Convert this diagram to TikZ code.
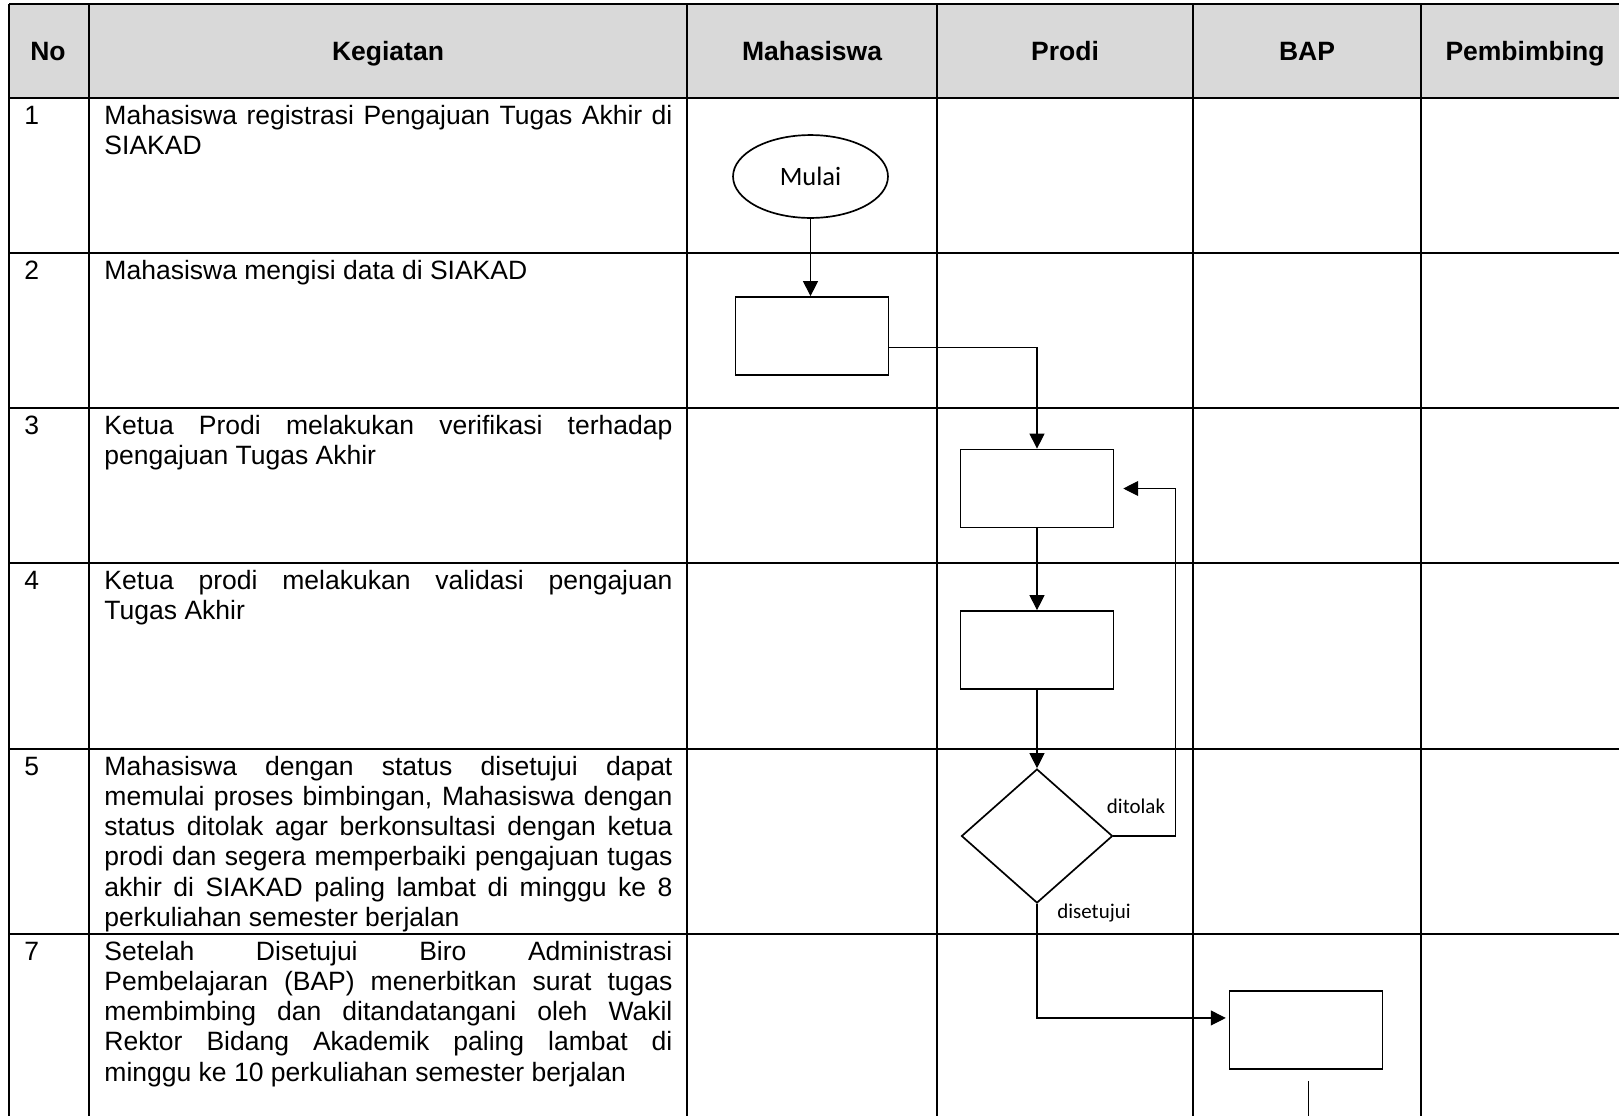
\documentclass[tikz,border=0pt]{standalone}
\usepackage{fontspec}
\setmainfont{Liberation Sans}
\newfontfamily\calibrifont{Carlito}
\usetikzlibrary{arrows.meta,shapes.geometric}
\hyphenpenalty=10000
\tolerance=10000
\hbadness=10000
\definecolor{abu}{HTML}{D9D9D9}
\tikzset{
  garis/.style={line width=.85pt},
  kotak/.style={draw,line width=.7pt,minimum width=63.5pt,minimum height=32.4pt,inner sep=0pt},
  panah/.style={->,line width=.45pt},
  judul/.style={anchor=base,inner sep=0pt,font=\fontsize{11}{12.6}\selectfont\bfseries},
  isi/.style={anchor=base west,inner sep=0pt,text width=235.7pt,align=justify},
  nomor/.style={anchor=base west,inner sep=0pt},
  ket/.style={anchor=base,inner sep=0pt,font=\calibrifont\fontsize{8.7}{10}\selectfont}
}
\begin{document}
\begin{tikzpicture}[x=.415pt,y=-.415pt,>={Triangle[length=6.2pt,width=6.2pt]},line join=miter,font=\fontsize{11}{12.57}\selectfont]
\useasboundingbox (0,0) rectangle (1619,1115);
\clip (0,0) rectangle (1619,1115);
% header
\fill[abu] (9,4) rectangle (1640,98);
\draw[garis]
(9,4) -- (1640,4)
(9,98) -- (1640,98)
(9,253) -- (1640,253)
(9,408) -- (1640,408)
(9,563) -- (1640,563)
(9,749) -- (1640,749)
(9,934) -- (1640,934)
(9,4) -- (9,1130)
(89,4) -- (89,1130)
(687,4) -- (687,1130)
(937,4) -- (937,1130)
(1193,4) -- (1193,1130)
(1421,4) -- (1421,1130)
;
\node[judul] (hno) at (48,60.5) {No};
\node[judul] (hkegiatan) at (388,60.5) {Kegiatan};
\node[judul] (hmahasiswa) at (812,60.5) {Mahasiswa};
\node[judul] (hprodi) at (1065,60.5) {Prodi};
\node[judul] (hbap) at (1307,60.5) {BAP};
\node[judul] (hpembimbing) at (1525,60.5) {Pembimbing};
% kegiatan
\node[nomor] (no1) at (24,124) {1};
\node[nomor] (no2) at (24,279) {2};
\node[nomor] (no3) at (24,434) {3};
\node[nomor] (no4) at (24,589) {4};
\node[nomor] (no5) at (24,775) {5};
\node[nomor] (no7) at (24,960) {7};
\node[isi] (keg1) at (104,124) {Mahasiswa registrasi Pengajuan Tugas Akhir di\linebreak SIAKAD};
\node[isi] (keg2) at (104,279) {Mahasiswa mengisi data di SIAKAD};
\node[isi] (keg3) at (104,434) {Ketua Prodi melakukan verifikasi terhadap\linebreak pengajuan Tugas Akhir};
\node[isi] (keg4) at (104,589) {Ketua prodi melakukan validasi pengajuan\linebreak Tugas Akhir};
\node[isi] (keg5) at (104,775) {Mahasiswa dengan status disetujui dapat\linebreak memulai proses bimbingan, Mahasiswa dengan\linebreak status ditolak agar berkonsultasi dengan ketua\linebreak prodi dan segera memperbaiki pengajuan tugas\linebreak akhir di SIAKAD paling lambat di minggu ke 8\linebreak perkuliahan semester berjalan};
\node[isi] (keg7) at (104,960) {Setelah Disetujui Biro Administrasi\linebreak Pembelajaran (BAP) menerbitkan surat tugas\linebreak membimbing dan ditandatangani oleh Wakil\linebreak Rektor Bidang Akademik paling lambat di\linebreak minggu ke 10 perkuliahan semester berjalan};
% alur
\node[ellipse,draw,line width=.7pt,minimum width=64.3pt,minimum height=34.4pt,inner sep=0pt,font=\calibrifont\fontsize{11}{13}\selectfont] (mulai) at (810.5,176.5) {Mulai};
\node[kotak] (isidata) at (812,336) {};
\node[kotak] (verifikasi) at (1037,488.5) {};
\node[kotak] (validasi) at (1037,650) {};
\node[diamond,draw,line width=.7pt,minimum width=62.7pt,minimum height=55.6pt,inner sep=0pt] (status) at (1037,836) {};
\node[kotak] (surat) at (1306,1030) {};
\node[ket] (ditolak) at (1136,813) {ditolak};
\node[ket] (disetujui) at (1094,918) {disetujui};
\draw[panah] (mulai) -- (mulai |- isidata.north);
\draw[panah] ([yshift=-4.6pt]isidata.east) -| (verifikasi.north);
\draw[panah] (verifikasi) -- (validasi);
\draw[panah] (validasi) -- (status);
\draw[panah,shorten >=3.7pt] (status.east) -- ++(62,0) |- (verifikasi.east);
\draw[panah,shorten >=1.2pt] (status.south) |- ([yshift=5pt]surat.west);
\draw[line width=.45pt] ([yshift=-4.6pt,xshift=1pt]surat.south) -- ++(0,60);
\end{tikzpicture}
\end{document}
